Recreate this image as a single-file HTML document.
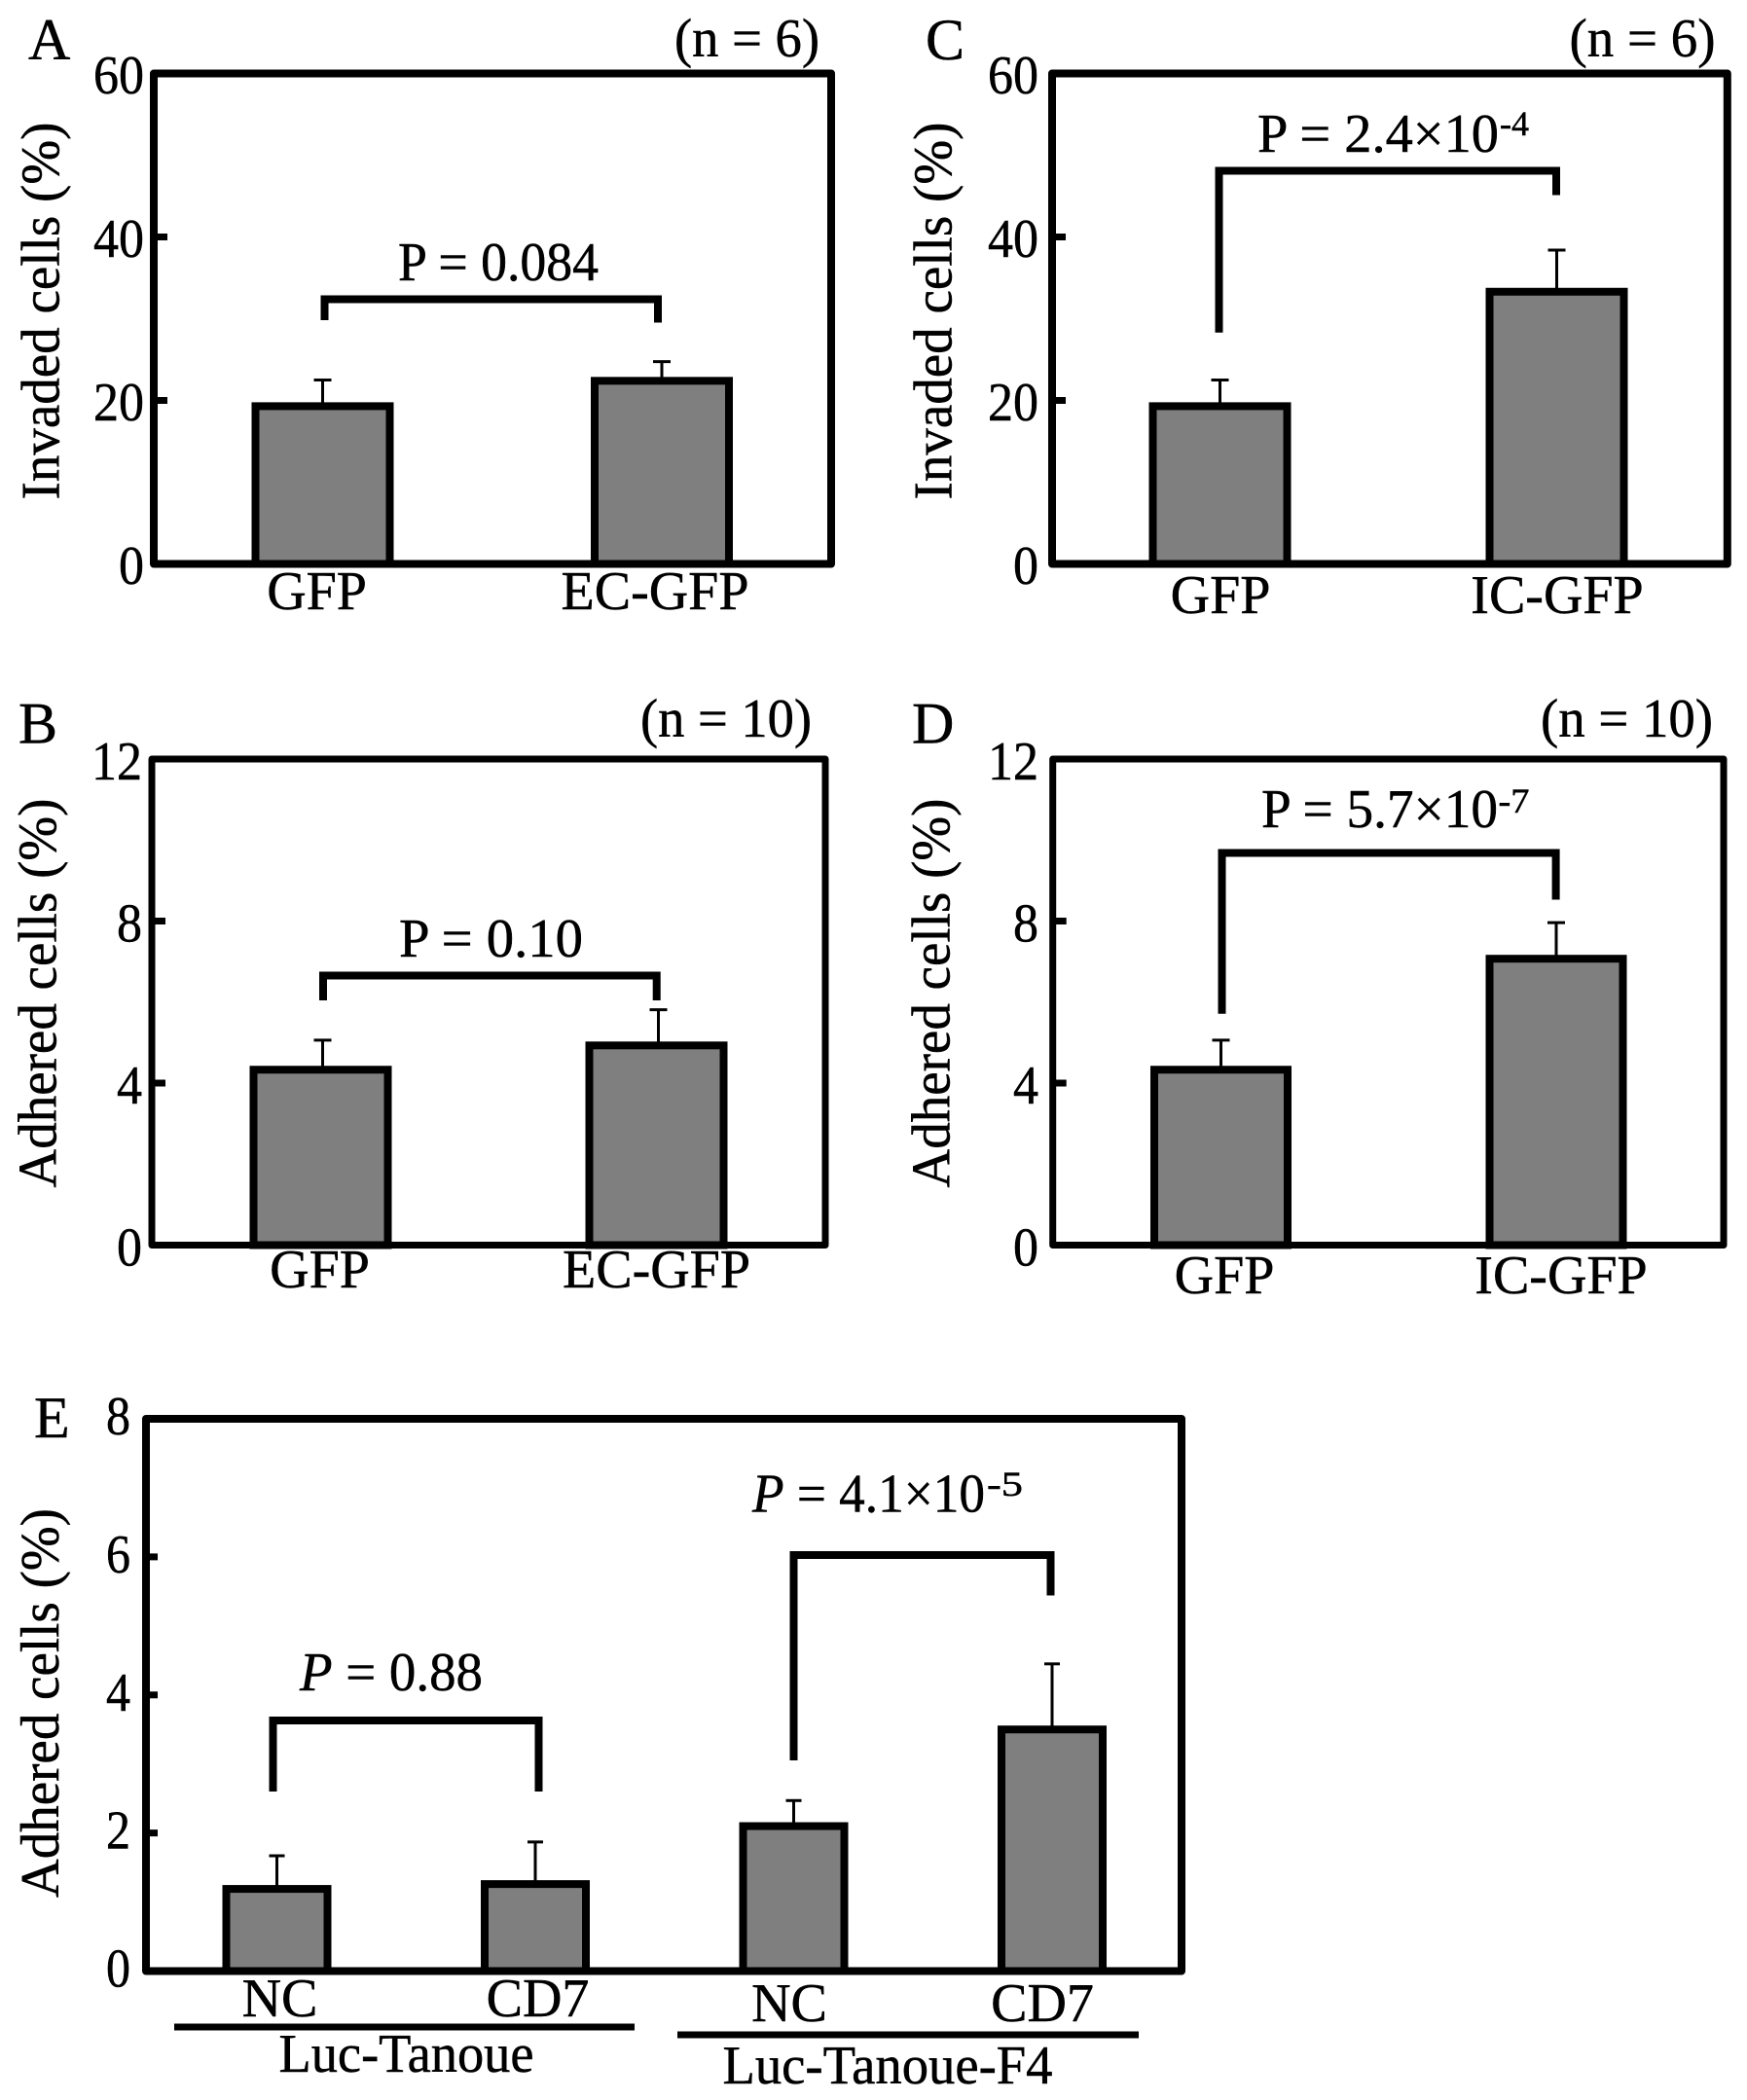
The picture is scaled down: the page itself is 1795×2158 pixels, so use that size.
<!DOCTYPE html>
<html lang="en">
<head>
<meta charset="utf-8">
<title>Invasion and adhesion bar charts</title>
<style>
  html, body { margin: 0; padding: 0; background: #fff; }
  svg { display: block; }
  text { font-family: "Liberation Serif", "Times New Roman", serif; fill: #000; stroke: #000; stroke-width: 0.5px; font-size: 56px; }
  .panel-letter { font-size: 60px; }
  .exp { font-size: 36px; }
  .bracket { fill: none; stroke: #000; stroke-width: 8; stroke-linejoin: miter; }
  .rule { stroke: #000; stroke-width: 7; }
</style>
</head>
<body>
<svg id="figure" xmlns="http://www.w3.org/2000/svg" width="1795" height="2158" viewBox="0 0 1795 2158">
  <rect x="0" y="0" width="1795" height="2158" fill="#fff"/>

  <!-- Panel A annotations -->
  <text class="panel-letter" x="29" y="61">A</text>
  <text x="693" y="58" textLength="149" lengthAdjust="spacingAndGlyphs">(n = 6)</text>
  <text transform="translate(60.6,319.5) rotate(-90)" text-anchor="middle" textLength="388" lengthAdjust="spacingAndGlyphs">Invaded cells (%)</text>
  <text x="409" y="288" textLength="206" lengthAdjust="spacingAndGlyphs">P = 0.084</text>
  <path class="bracket" d="M333.5 329V307.5H676V331.5"/>

  <!-- Panel B annotations -->
  <text class="panel-letter" x="19" y="763.6">B</text>
  <text x="658" y="757" textLength="176" lengthAdjust="spacingAndGlyphs">(n = 10)</text>
  <text transform="translate(57.7,1020.5) rotate(-90)" text-anchor="middle" textLength="400" lengthAdjust="spacingAndGlyphs">Adhered cells (%)</text>
  <text x="410" y="983" textLength="189" lengthAdjust="spacingAndGlyphs">P = 0.10</text>
  <path class="bracket" d="M332 1028V1002.5H674.7V1028"/>

  <!-- Panel C annotations -->
  <text class="panel-letter" x="951" y="61">C</text>
  <text x="1612.5" y="58" textLength="150" lengthAdjust="spacingAndGlyphs">(n = 6)</text>
  <text transform="translate(977.5,319.5) rotate(-90)" text-anchor="middle" textLength="388" lengthAdjust="spacingAndGlyphs">Invaded cells (%)</text>
  <text x="1292" y="156" textLength="248" lengthAdjust="spacingAndGlyphs">P = 2.4×10</text>
  <text class="exp" x="1541" y="139" textLength="30" lengthAdjust="spacingAndGlyphs">-4</text>
  <path class="bracket" d="M1252.5 341.7V175.5H1599V200.5"/>

  <!-- Panel D annotations -->
  <text class="panel-letter" x="937" y="763.6">D</text>
  <text x="1583" y="757" textLength="177" lengthAdjust="spacingAndGlyphs">(n = 10)</text>
  <text transform="translate(975.7,1020.5) rotate(-90)" text-anchor="middle" textLength="400" lengthAdjust="spacingAndGlyphs">Adhered cells (%)</text>
  <text x="1296" y="850" textLength="243" lengthAdjust="spacingAndGlyphs">P = 5.7×10</text>
  <text class="exp" x="1539.5" y="835" textLength="32" lengthAdjust="spacingAndGlyphs">-7</text>
  <path class="bracket" d="M1255.5 1041.7V876.5H1598.6V924.5"/>

  <!-- Panel E annotations -->
  <text class="panel-letter" x="35" y="1477">E</text>
  <text transform="translate(60,1750) rotate(-90)" text-anchor="middle" textLength="400" lengthAdjust="spacingAndGlyphs">Adhered cells (%)</text>
  <text x="308" y="1737" textLength="188" lengthAdjust="spacingAndGlyphs"><tspan font-style="italic">P</tspan> = 0.88</text>
  <text x="773" y="1553.5" textLength="239" lengthAdjust="spacingAndGlyphs"><tspan font-style="italic">P</tspan> = 4.1×10</text>
  <text class="exp" x="1014" y="1537" textLength="37" lengthAdjust="spacingAndGlyphs">-5</text>
  <path class="bracket" d="M280.5 1841V1768H553.5V1841"/>
  <path class="bracket" d="M815.5 1809V1598H1079.5V1639.5"/>
  <line class="rule" x1="179" y1="2083" x2="652" y2="2083"/>
  <line class="rule" x1="696" y1="2091" x2="1170" y2="2091"/>
  <text x="286.5" y="2129" textLength="262" lengthAdjust="spacingAndGlyphs">Luc-Tanoue</text>
  <text x="742.5" y="2141" textLength="339" lengthAdjust="spacingAndGlyphs">Luc-Tanoue-F4</text>
</svg>

<script>
const panelACategories = ['GFP', 'EC-GFP'];
const panelAValues = [19.3, 22.4];
const panelAErrors = [3.2, 2.35];
const panelATicks = [0, 20, 40, 60];

const panelBCategories = ['GFP', 'EC-GFP'];
const panelBValues = [4.33, 4.93];
const panelBErrors = [0.73, 0.88];
const panelBTicks = [0, 4, 8, 12];

const panelCCategories = ['GFP', 'IC-GFP'];
const panelCValues = [19.3, 33.3];
const panelCErrors = [3.2, 5.1];
const panelCTicks = [0, 20, 40, 60];

const panelDCategories = ['GFP', 'IC-GFP'];
const panelDValues = [4.33, 7.07];
const panelDErrors = [0.73, 0.89];
const panelDTicks = [0, 4, 8, 12];

const panelECategories = ['NC', 'CD7', 'NC', 'CD7'];
const panelEValues = [1.19, 1.26, 2.1, 3.5];
const panelEErrors = [0.48, 0.61, 0.37, 0.95];
const panelETicks = [0, 2, 4, 6, 8];

const SVG_NS = 'http://www.w3.org/2000/svg';
const figure = document.getElementById('figure');

function make(parent, tag, attrs, text) {
  const el = document.createElementNS(SVG_NS, tag);
  Object.keys(attrs).forEach(function (k) { el.setAttribute(k, attrs[k]); });
  if (text !== undefined) el.textContent = text;
  parent.appendChild(el);
  return el;
}

function drawPanel(id, box, categories, values, errors, ticks) {
  const domainMax = ticks[ticks.length - 1];
  const y = function (v) { return box.bottom - (v / domainMax) * (box.bottom - box.top); };
  const x = function (i) { return box.firstCenter + i * box.step; };

  const g = make(figure, 'g', {});
  
  

  values.forEach(function (v, i) {
    const slug = categories[i].toLowerCase() + '-' + (i + 1);
    const cx = x(i) + box.errorDx;
    const stem = make(g, 'line', { x1: cx, x2: cx, y1: y(v), y2: y(v + errors[i]), stroke: '#000', 'stroke-width': 3 });
    
    
    const cap = make(g, 'line', { x1: cx - box.capHalf, x2: cx + box.capHalf, y1: y(v + errors[i]), y2: y(v + errors[i]), stroke: '#000', 'stroke-width': 3 });
    
    
    const bar = make(g, 'rect', {
      x: x(i) - box.barWidth / 2,
      y: y(v),
      width: box.barWidth,
      height: box.bottom - y(v),
      fill: '#7f7f7f',
      stroke: '#000',
      'stroke-width': 8
    });
    
    
    const label = make(g, 'text', {
      x: x(i) + box.labelNudge[i],
      y: box.labelBase[i],
      'text-anchor': 'middle'
    }, categories[i]);
    
    
  });

  const frame = make(g, 'rect', {
    x: box.left,
    y: box.top,
    width: box.right - box.left,
    height: box.bottom - box.top,
    fill: 'none',
    stroke: '#000',
    'stroke-width': box.frameStroke,
    'stroke-linejoin': 'round'
  });
  
  

  ticks.forEach(function (t) {
    const mark = make(g, 'line', { x1: box.left, x2: box.left + box.tickLength, y1: y(t), y2: y(t), stroke: '#000', 'stroke-width': 7 });
    
    
    const s = String(t);
    const tickLabel = make(g, 'text', {
      x: box.tickRight,
      y: y(t) + box.tickDrop,
      'text-anchor': 'end',
      textLength: s.length * box.digitWidth,
      lengthAdjust: 'spacingAndGlyphs'
    }, s);
    
    
  });
}

drawPanel('a',
  { left: 158, right: 854, top: 75.5, bottom: 579.5, firstCenter: 331.5, step: 348.5, barWidth: 138, errorDx: 0, capHalf: 9, frameStroke: 8, tickLength: 14, tickRight: 148, tickDrop: 20.5, digitWidth: 26, labelNudge: [-5.9, -7], labelBase: [626, 626] },
  panelACategories, panelAValues, panelAErrors, panelATicks);

drawPanel('b',
  { left: 156, right: 848, top: 780, bottom: 1279.5, firstCenter: 329.5, step: 345, barWidth: 138, errorDx: 2, capHalf: 9, frameStroke: 7, tickLength: 14, tickRight: 146, tickDrop: 21, digitWidth: 26, labelNudge: [-1, 0], labelBase: [1323, 1323] },
  panelBCategories, panelBValues, panelBErrors, panelBTicks);

drawPanel('c',
  { left: 1081, right: 1774.8, top: 75.5, bottom: 579.5, firstCenter: 1253.5, step: 346, barWidth: 138, errorDx: 0, capHalf: 9, frameStroke: 8, tickLength: 14, tickRight: 1067, tickDrop: 20.5, digitWidth: 26, labelNudge: [0.5, 0.5], labelBase: [630, 630] },
  panelCCategories, panelCValues, panelCErrors, panelCTicks);

drawPanel('d',
  { left: 1081.7, right: 1771, top: 780, bottom: 1279.5, firstCenter: 1254.5, step: 344.5, barWidth: 137, errorDx: 0, capHalf: 9, frameStroke: 7, tickLength: 14, tickRight: 1067, tickDrop: 21, digitWidth: 26, labelNudge: [3.5, 5], labelBase: [1329, 1329] },
  panelDCategories, panelDValues, panelDErrors, panelDTicks);

drawPanel('e',
  { left: 150, right: 1214, top: 1458, bottom: 2025.5, firstCenter: 284.5, step: 265.5, barWidth: 104, errorDx: 0, capHalf: 8, frameStroke: 8, tickLength: 12, tickRight: 134, tickDrop: 16, digitWidth: 25, labelNudge: [3, 2.5, -4.5, -10], labelBase: [2072, 2072, 2077, 2077] },
  panelECategories, panelEValues, panelEErrors, panelETicks);
</script>
</body>
</html>
